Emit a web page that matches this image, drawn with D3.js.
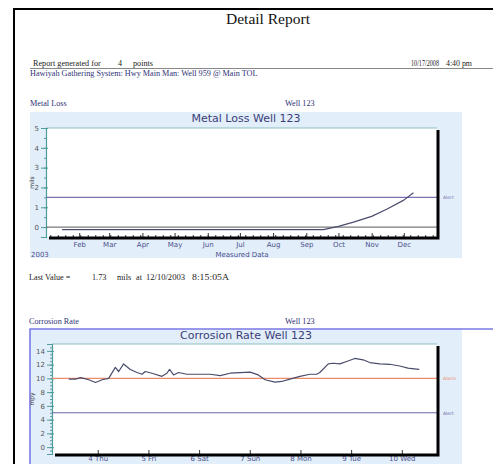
<!DOCTYPE html>
<html>
<head>
<meta charset="utf-8">
<script src="https://cdn.jsdelivr.net/npm/d3@7"></script>
<style>
  body { margin: 0; background: #fff; }
  svg { display: block; }
  .serif { font-family: "Liberation Serif", "Times New Roman", serif; }
  .sans { font-family: "DejaVu Sans", Verdana, sans-serif; }
</style>
</head>
<body>
<svg id="page" width="493" height="464"></svg>
<script>
// metal loss (mils), measured data
const lossDates = ['2003-01-16', '2003-09-17', '2003-10-01', '2003-10-15', '2003-11-01', '2003-11-15', '2003-12-01', '2003-12-10']
const lossValues = [-0.13, -0.13, 0.04, 0.25, 0.54, 0.9, 1.36, 1.73]
const lossMonths = ['Feb', 'Mar', 'Apr', 'May', 'Jun', 'Jul', 'Aug', 'Sep', 'Oct', 'Nov', 'Dec']
const lossRefs = [{ value: 1.5, label: 'Alert', color: '#7a70b4' }, { value: 0, label: '', color: '#7a7a7a' }]

// corrosion rate (mpy)
const rateTimes = [
  '2003-12-03T10:15', '2003-12-03T13:30', '2003-12-03T15:50', '2003-12-03T17:20', '2003-12-03T19:45',
  '2003-12-03T22:55', '2003-12-04T02:05', '2003-12-04T05:10', '2003-12-04T08:20', '2003-12-04T09:55',
  '2003-12-04T12:15', '2003-12-04T15:25', '2003-12-04T18:35', '2003-12-04T21:00', '2003-12-04T22:30',
  '2003-12-05T01:40', '2003-12-05T06:25', '2003-12-05T08:45', '2003-12-05T10:00', '2003-12-05T11:55',
  '2003-12-05T14:15', '2003-12-05T18:15', '2003-12-06T00:30', '2003-12-06T05:15', '2003-12-06T10:00',
  '2003-12-06T14:40', '2003-12-07T00:10', '2003-12-07T04:00', '2003-12-07T07:15', '2003-12-07T11:55',
  '2003-12-07T15:05', '2003-12-07T19:00', '2003-12-07T23:45', '2003-12-08T04:30', '2003-12-08T07:40',
  '2003-12-08T09:10', '2003-12-08T13:10', '2003-12-08T15:30', '2003-12-08T18:40', '2003-12-08T21:50',
  '2003-12-09T01:45', '2003-12-09T05:40', '2003-12-09T08:50', '2003-12-09T13:35', '2003-12-09T18:15',
  '2003-12-09T23:00', '2003-12-10T02:55', '2003-12-10T06:55', '2003-12-10T08:15'
]
const rateValues = [
  9.9, 9.9, 10.1, 10.0, 9.8,
  9.4, 9.8, 10.0, 11.6, 11.0,
  12.1, 11.3, 10.85, 10.6, 11.0,
  10.75, 10.3, 10.75, 11.3, 10.5,
  10.85, 10.6, 10.6, 10.6, 10.4,
  10.75, 10.9, 10.5, 9.8, 9.45,
  9.55, 9.9, 10.3, 10.6, 10.6,
  10.85, 12.1, 12.2, 12.1, 12.45,
  12.9, 12.7, 12.3, 12.1, 12.05,
  11.8, 11.5, 11.35, 11.3
]
const rateDays = ['4 Thu', '5 Fri', '6 Sat', '7 Sun', '8 Mon', '9 Tue', '10 Wed']
const rateRefs = [{ value: 10, label: 'Alarm', color: '#ef8a6a' }, { value: 5, label: 'Alert', color: '#6a66a8' }]

const parseDay = d3.timeParse('%Y-%m-%d')
const parseTime = d3.timeParse('%Y-%m-%dT%H:%M')

const svg = d3.select('#page')
const navy = '#2f3276'
const teal = '#4f9d9a'

// page frame
svg.append('path')
  .attr('d', 'M14,464V9H493')
  .attr('fill', 'none')
  .attr('stroke', '#000')
  .attr('stroke-width', 2)

const text = (x, y, str, opts = {}) => {
  const t = svg.append('text')
    .attr('x', x).attr('y', y)
    .attr('class', opts.cls || 'serif')
    .attr('font-size', opts.size || 8.2)
    .attr('fill', opts.fill || '#222')
    .attr('text-anchor', opts.anchor || 'start')
    .text(str)
  if (opts.fit) t.attr('textLength', opts.fit).attr('lengthAdjust', 'spacingAndGlyphs')
  return t
}

text(268, 24, 'Detail Report', { size: 15.5, anchor: 'middle', fill: '#111' })
text(33, 66, 'Report generated for')
text(118, 66, '4')
text(133, 66, 'points')
text(411, 66, '10/17/2008', { fit: 28 })
text(446, 66, '4:40 pm', { fit: 26 })
svg.append('line')
  .attr('x1', 30).attr('x2', 493).attr('y1', 68.5).attr('y2', 68.5)
  .attr('stroke', '#888').attr('stroke-width', 1)
text(30, 76, 'Hawiyah Gathering System: Hwy Main Man: Well 959 @ Main TOL', { fill: navy })

text(30, 106, 'Metal Loss', { fill: navy })
text(285, 106, 'Well 123', { fill: navy })
text(29, 280, 'Last Value =')
text(92, 280, '1.73')
text(117, 280, 'mils')
text(136, 280, 'at')
text(146, 280, '12/10/2003', { fit: 39 })
text(192, 280, '8:15:05A', { fit: 37 })
text(29, 324, 'Corrosion Rate', { fill: navy })
text(285, 324, 'Well 123', { fill: navy })

function drawChart (cfg) {
  const g = svg.append('g')

  g.append('rect')
    .attr('x', cfg.panel[0]).attr('y', cfg.panel[1])
    .attr('width', cfg.panel[2] - cfg.panel[0]).attr('height', cfg.panel[3] - cfg.panel[1])
    .attr('fill', '#e2eefa')

  if (cfg.selected) {
    g.append('path')
      .attr('d', `M${cfg.panel[0]},${cfg.panel[3]}V${cfg.panel[1]}H493`)
      .attr('fill', 'none')
      .attr('stroke', '#7b78e6')
      .attr('stroke-width', 1.6)
  }

  g.append('text')
    .attr('class', 'sans')
    .attr('x', 246).attr('y', cfg.panel[1] + 10)
    .attr('text-anchor', 'middle')
    .attr('font-size', 11)
    .attr('fill', '#3b3d78')
    .text(cfg.title)

  const [left, top, right, bottom] = cfg.plot
  const x = d3.scaleTime().domain(cfg.xDomain).range([left, right])
  const y = d3.scaleLinear().domain(cfg.yDomain).range([bottom, top])

  g.append('rect')
    .attr('x', left).attr('y', top)
    .attr('width', right - left).attr('height', bottom - top)
    .attr('fill', '#fff')
  g.append('line')
    .attr('x1', left).attr('x2', right).attr('y1', top).attr('y2', top)
    .attr('stroke', '#8fc0bd').attr('stroke-width', 1)

  // y axis: minor then major
  const yMinor = g.append('g')
    .attr('transform', `translate(${left},0)`)
    .call(d3.axisLeft(y).tickValues(d3.range(cfg.yDomain[0], cfg.yDomain[1] + 0.01, cfg.yMinor)).tickSize(2).tickFormat(''))
  yMinor.select('.domain').remove()
  yMinor.selectAll('line').attr('stroke', teal)

  const yAxis = g.append('g')
    .attr('transform', `translate(${left},0)`)
    .call(d3.axisLeft(y).tickValues(cfg.yTicks).tickSize(5).tickPadding(2).tickFormat(d3.format('d')))
  yAxis.select('.domain').attr('stroke', teal).attr('stroke-width', 1.2)
  yAxis.selectAll('.tick line').attr('stroke', teal).attr('x2', -5).attr('x1', 2)
  yAxis.selectAll('text')
    .attr('class', 'sans')
    .attr('font-size', 7)
    .attr('fill', '#555')

  g.append('text')
    .attr('class', 'sans')
    .attr('transform', `translate(34,${(top + bottom) / 2}) rotate(-90)`)
    .attr('text-anchor', 'middle')
    .attr('font-size', 6)
    .attr('fill', '#333')
    .text(cfg.yLabel)

  // x axis: ticks point up into the plot
  const xAxis = g.append('g')
    .attr('transform', `translate(0,${bottom})`)
    .call(d3.axisTop(x).tickValues(cfg.xMinor).tickSize(2).tickFormat(''))
  xAxis.select('.domain').remove()
  xAxis.selectAll('line').attr('stroke', '#333')

  const xMajor = g.append('g')
    .attr('transform', `translate(0,${bottom})`)
    .call(d3.axisBottom(x).tickValues(cfg.xTicks).tickSize(0).tickPadding(cfg.xPad).tickFormat((d, i) => cfg.xLabels[i]))
  xMajor.select('.domain').remove()
  xMajor.selectAll('.tick line').attr('y1', 0).attr('y2', -4).attr('stroke', '#333')
  xMajor.selectAll('text')
    .attr('class', 'sans')
    .attr('font-size', 7)
    .attr('fill', '#4b4f8a')

  // reference lines
  cfg.refs.forEach(r => {
    g.append('line')
      .attr('x1', left).attr('x2', right)
      .attr('y1', y(r.value)).attr('y2', y(r.value))
      .attr('stroke', r.color).attr('stroke-width', 1.2)
    if (r.label) {
      g.append('text')
        .attr('class', 'sans')
        .attr('x', right + 6).attr('y', y(r.value) + 2)
        .attr('font-size', 4.5)
        .attr('fill', r.color)
        .text(r.label)
    }
  })

  // data
  const line = d3.line().x(d => x(d.t)).y(d => y(d.v))
  g.append('path')
    .datum(cfg.data)
    .attr('d', line)
    .attr('fill', 'none')
    .attr('stroke', '#4a4c6c')
    .attr('stroke-width', 1.2)
    .attr('stroke-linejoin', 'round')

  // heavy frame on bottom and right
  g.append('path')
    .attr('d', `M${left + 3},${bottom + 1}H${right + 1}V${top + 2}`)
    .attr('fill', 'none')
    .attr('stroke', '#000')
    .attr('stroke-width', 3)

  return { g, x, y }
}

const lossData = lossDates.map((d, i) => ({ t: parseDay(d), v: lossValues[i] }))
const monthTicks = d3.timeMonth.range(new Date(2003, 1, 1), new Date(2003, 11, 2))
const c1 = drawChart({
  panel: [30, 112, 462, 258],
  plot: [46, 128, 437, 237],
  title: 'Metal Loss Well 123',
  xDomain: [new Date(2003, 0, 1), new Date(2004, 0, 1)],
  yDomain: [-0.5, 5],
  yTicks: [0, 1, 2, 3, 4, 5],
  yMinor: 0.5,
  yLabel: 'mils',
  xTicks: monthTicks,
  xLabels: lossMonths,
  xPad: 5,
  xMinor: d3.timeWeek.range(new Date(2003, 0, 1), new Date(2004, 0, 1)),
  refs: lossRefs,
  data: lossData
})
c1.g.append('text').attr('class', 'sans').attr('x', 31).attr('y', 257)
  .attr('font-size', 7).attr('fill', '#4b4f8a').text('2003')
c1.g.append('text').attr('class', 'sans').attr('x', 242).attr('y', 257)
  .attr('text-anchor', 'middle').attr('font-size', 7).attr('fill', '#4b4f8a').text('Measured Data')

const rateData = rateTimes.map((d, i) => ({ t: parseTime(d), v: rateValues[i] }))
const dayTicks = d3.timeDay.range(new Date(2003, 11, 4), new Date(2003, 11, 11))
drawChart({
  panel: [30, 329, 462, 470],
  plot: [52, 344, 437, 454],
  title: 'Corrosion Rate  Well 123',
  selected: true,
  xDomain: [new Date(2003, 11, 3, 2, 20), new Date(2003, 11, 10, 16, 40)],
  yDomain: [-1, 15],
  yTicks: [0, 2, 4, 6, 8, 10, 12, 14],
  yMinor: 0.5,
  yLabel: 'mpy',
  xTicks: dayTicks,
  xLabels: rateDays,
  xPad: 2,
  xMinor: [],
  refs: rateRefs,
  data: rateData
})
</script>
</body>
</html>
